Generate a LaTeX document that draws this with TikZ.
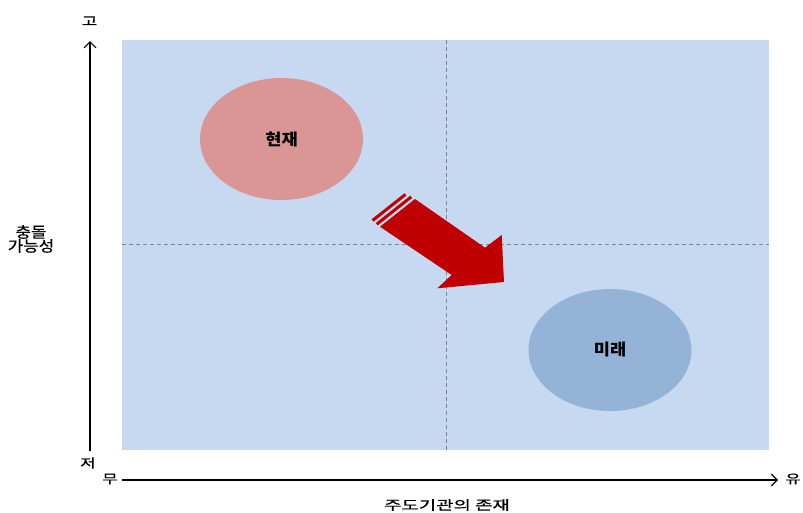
\documentclass[tikz,border=0pt]{standalone}
\usepackage{fontspec}
\setmainfont{Noto Sans CJK KR}
\newfontfamily\krsemi[FakeBold=0.6]{Noto Sans CJK KR}
\usetikzlibrary{shapes.geometric,arrows.meta}
\definecolor{bgblue}{HTML}{C6D9F1}
\definecolor{rose}{HTML}{D99694}
\definecolor{steel}{HTML}{95B3D7}
\definecolor{darkred}{HTML}{C00000}
\definecolor{dashgray}{HTML}{7A869A}
\tikzset{
  axisline/.style={line width=1.1pt, -{Straight Barb[length=6pt,width=12pt,line width=1.1pt]}},
  guide/.style={dashgray, line width=0.8pt, dash pattern=on 4pt off 3pt},
  blob/.style={ellipse, inner sep=0pt, minimum width=163pt, minimum height=122pt, font=\fontsize{16}{18}\selectfont\bfseries},
  axlabel/.style={inner sep=0pt, font=\krsemi\fontsize{12.5}{14}\selectfont},
}
\begin{document}
\begin{tikzpicture}[x=1pt,y=-1pt]
\useasboundingbox (0,0) rectangle (803,512);
% background field
\fill[bgblue] (122,40) rectangle (769,450);
\coordinate (vt) at (446,40);
\coordinate (vb) at (446,450);
\coordinate (hl) at (122,244);
\coordinate (hr) at (769,244);
\draw[guide] (vt) -- (vb);
\draw[guide] (hl) -- (hr);
% ellipses
\node[blob, fill=rose] (now) at (281.5,139) {\scalebox{1.1}[1]{현재}};
\node[blob, fill=steel] (future) at (610,350) {\scalebox{1.1}[1]{미래}};
% red block arrow
\fill[darkred] (415,199) -- (485,247.7) -- (501.7,235) -- (504,282) -- (437.3,288.3) -- (451.7,275) -- (380,226.7) -- cycle;
\fill[darkred] (377.7,225.4) -- (412.2,198.0) -- (410.3,195.7) -- (375.8,223.0) -- cycle;
\fill[darkred] (373.5,221.7) -- (406.4,195.6) -- (404.6,193.2) -- (371.6,219.3) -- cycle;
% axes
\coordinate (yb) at (90,451);
\coordinate (yt) at (90,41);
\coordinate (xl) at (122,480);
\coordinate (xr) at (778,480);
\draw[axisline] (yb) -- (yt);
\draw[axisline] (xl) -- (xr);
\node[axlabel] (hi) at (89.5,21) {\scalebox{1.35}[1]{고}};
\node[axlabel] (lo) at (88,463) {\scalebox{1.35}[1]{저}};
\node[axlabel] (none) at (110,479) {\scalebox{1.35}[1]{무}};
\node[axlabel] (some) at (793,479) {\scalebox{1.35}[1]{유}};
\node[inner sep=0pt, font=\krsemi\fontsize{13}{15}\selectfont] (xtitle) at (447,505) {\scalebox{1.45}[1]{주도기관의 존재}};
\node[inner sep=0pt, font=\krsemi\fontsize{15}{17}\selectfont, align=center] (ytitle) at (31,239) {\scalebox{1.12}[1]{충돌}\\[-3pt]\scalebox{1.12}[1]{가능성}};
\end{tikzpicture}
\end{document}
